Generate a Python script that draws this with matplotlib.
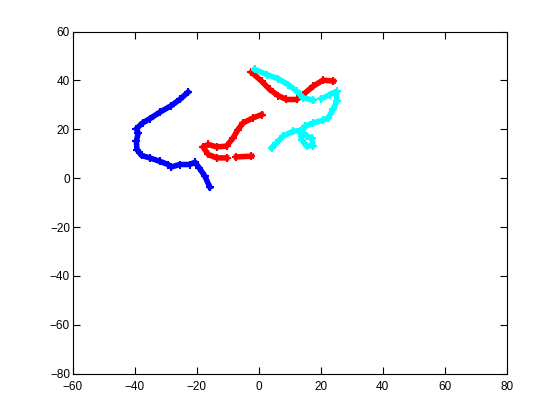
import numpy as np
import matplotlib
matplotlib.use('Agg')
import matplotlib.pyplot as plt

# Trajectoire bleue
blue_x = [-15.8, -17.4, -19.2, -20.6, -22.3, -25.5, -28.2, -29.3, -31.9, -35.2, -37.8,
          -39.3, -39.5, -38.9, -39.5, -37.5, -35.2, -31.9, -28.2, -25.5, -22.8]
blue_y = [-3.6, 0.8, 4.2, 6.5, 5.6, 5.6, 4.6, 5.6, 6.9, 8.3, 9.3,
          11.7, 15.1, 18.5, 20.2, 22.6, 24.3, 27.0, 29.7, 32.2, 35.2]

# Trajectoire rouge (partie haute)
red1_x = [-2.4, 0.9, 3.5, 6.2, 8.9, 12.2, 14.3, 17.5, 20.7, 24.0]
red1_y = [43.4, 39.7, 36.3, 33.8, 32.2, 32.2, 34.2, 37.6, 40.1, 39.7]

# Trajectoire rouge (partie basse)
red2_x = [0.9, -1.8, -5.1, -6.7, -8.3, -10.4, -13.6, -16.3, -18.0, -16.3, -13.6,
          -10.4, np.nan, -7.2, -2.4]
red2_y = [26.0, 24.7, 22.6, 19.9, 16.5, 13.1, 12.8, 13.8, 12.8, 9.7, 8.3,
          8.3, np.nan, 8.7, 9.0]

# Trajectoire cyan
cyan_x = [4.1, 5.7, 7.8, 11.1, 13.2, 13.8, 15.4, 17.5, 17.0, 15.4, 14.0, 14.8,
          17.5, 20.7, 22.4, 24.0, 25.1, 25.1, 22.9, 20.2, np.nan, 17.5, 14.3,
          12.2, 9.5, 6.2, 2.5, -1.3]
cyan_y = [12.4, 14.4, 17.2, 19.2, 19.5, 15.8, 13.1, 13.3, 16.5, 17.2, 19.0, 21.2,
          22.6, 23.7, 24.7, 28.1, 31.5, 35.6, 34.2, 32.5, np.nan, 31.9, 32.9,
          35.6, 38.3, 40.7, 42.4, 44.5]

plt.rcParams['font.family'] = ['Liberation Sans', 'DejaVu Sans']

fig = plt.figure(figsize=(5.6, 4.2), dpi=100)
ax = fig.add_axes([0.13, 0.11, 0.775, 0.815])

style = dict(linestyle='-', linewidth=4, marker='+', markersize=6, markeredgewidth=1.5)
ax.plot(blue_x, blue_y, color='#0000ff', **style)
ax.plot(red1_x, red1_y, color='#ff0000', **style)
ax.plot(red2_x, red2_y, color='#ff0000', **style)
ax.plot(cyan_x, cyan_y, color='#00ffff', **style)

ax.set_xlim(-60, 80)
ax.set_ylim(-80, 60)
ax.set_xticks(np.arange(-60, 81, 20))
ax.set_yticks(np.arange(-80, 61, 20))
ax.tick_params(direction='in', top=True, right=True, length=5, labelsize=8.5)
ax.tick_params(axis='y', pad=2)
ax.tick_params(axis='x', pad=5)

fig.savefig('out.png', dpi=100)
